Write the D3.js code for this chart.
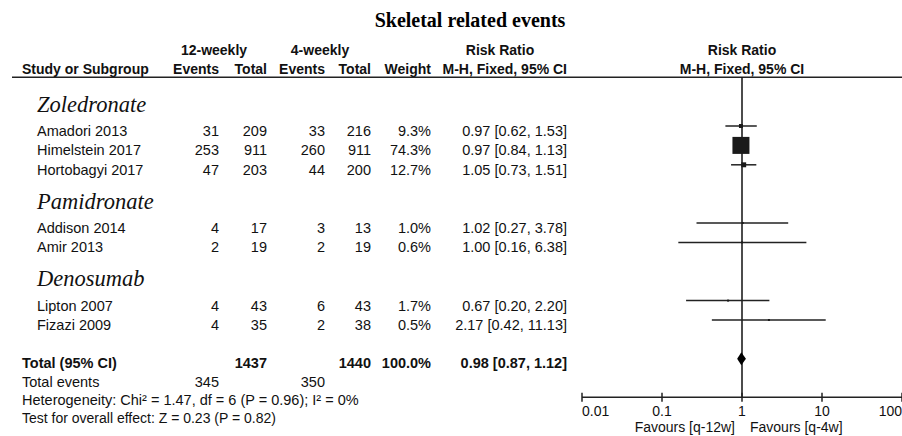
<!DOCTYPE html>
<html>
<head>
<meta charset="utf-8">
<script src="https://cdn.jsdelivr.net/npm/d3@7"></script>
<style>
  body { margin: 0; background: #fff; }
  svg { display: block; }
  .hdr { font-family: 'Liberation Sans', Arial, sans-serif; font-weight: bold; font-size: 14px; fill: #111; }
  .row { font-family: 'Liberation Sans', Arial, sans-serif; font-size: 14.5px; fill: #111; }
  .grp { font-family: 'Liberation Serif', 'Times New Roman', serif; font-style: italic; font-size: 22.5px; fill: #111; }
  .axis text { font-family: 'Liberation Sans', Arial, sans-serif; font-size: 14px; fill: #111; }
</style>
</head>
<body>
<div id="chart"></div>
<script>
// data
var groups = ['Zoledronate', 'Pamidronate', 'Denosumab'];
var studies = ['Amadori 2013', 'Himelstein 2017', 'Hortobagyi 2017', 'Addison 2014', 'Amir 2013', 'Lipton 2007', 'Fizazi 2009'];
var studyGroup = [0, 0, 0, 1, 1, 2, 2];
var events12 = [31, 253, 47, 4, 2, 4, 4];
var total12 = [209, 911, 203, 17, 19, 43, 35];
var events4 = [33, 260, 44, 3, 2, 6, 2];
var total4 = [216, 911, 200, 13, 19, 43, 38];
var weight = [9.3, 74.3, 12.7, 1.0, 0.6, 1.7, 0.5];
var rr = [0.97, 0.97, 1.05, 1.02, 1.00, 0.67, 2.17];
var lower = [0.62, 0.84, 0.73, 0.27, 0.16, 0.20, 0.42];
var upper = [1.53, 1.13, 1.51, 3.78, 6.38, 2.20, 11.13];

var pooled = [0.98, 0.87, 1.12]; // RR, lower, upper
var pooledTotals = [1437, 1440];
var pooledEvents = [345, 350];
var footerLines = [
  'Heterogeneity: Chi\u00b2 = 1.47, df = 6 (P = 0.96); I\u00b2 = 0%',
  'Test for overall effect: Z = 0.23 (P = 0.82)'
];
var axisTicks = [0.01, 0.1, 1, 10, 100];
var favours = ['Favours [q-12w]', 'Favours [q-4w]'];

var width = 902,
  height = 436;

var svg = d3.select('#chart').append('svg')
    .attr('width', width)
    .attr('height', height);

// columns (right edge of each numeric column)
var col = { name: 37, left: 22, ev1: 219, tot1: 267, ev2: 325, tot2: 371, w: 431, ci: 567 };

// layout slots: heading, studies, blank gap per subgroup
var slots = [];
var s = -1;
groups.forEach(function(g, gi) {
  slots.push({ type: 'group', label: g, slot: s++ });
  studies.forEach(function(name, i) {
    if (studyGroup[i] === gi) slots.push({ type: 'study', i: i, slot: s++ });
  });
  s++;
});
var totalSlot = s;

var y = d3.scaleLinear().domain([-1, 12]).range([106.6, 358.8]);
var x = d3.scaleLog().domain([0.01, 100]).range([582, 902]);
var boxSize = d3.scalePow().exponent(0.7).domain([0, d3.max(weight)]).range([0, 17]);
var fmt = d3.format('.2f');
var ciText = function(a, b, c) { return fmt(a) + ' [' + fmt(b) + ', ' + fmt(c) + ']'; };

// title
svg.append('text')
    .attr('x', 470).attr('y', 27)
    .attr('text-anchor', 'middle')
    .style('font-family', "'Liberation Serif', 'Times New Roman', serif")
    .style('font-weight', 'bold')
    .style('font-size', '20px')
    .text('Skeletal related events');

// header
var hdr = svg.append('g').attr('class', 'hdr');
hdr.append('text').attr('x', 214).attr('y', 55).attr('text-anchor', 'middle').text('12-weekly');
hdr.append('text').attr('x', 320).attr('y', 55).attr('text-anchor', 'middle').text('4-weekly');
hdr.append('text').attr('x', 500).attr('y', 55).attr('text-anchor', 'middle').text('Risk Ratio');
hdr.append('text').attr('x', x(1)).attr('y', 55).attr('text-anchor', 'middle').text('Risk Ratio');
hdr.append('text').attr('x', col.left).attr('y', 74).text('Study or Subgroup');
[['ev1', 'Events'], ['tot1', 'Total'], ['ev2', 'Events'], ['tot2', 'Total'], ['w', 'Weight'], ['ci', 'M-H, Fixed, 95% CI']]
  .forEach(function(h) {
    hdr.append('text').attr('x', col[h[0]]).attr('y', 74).attr('text-anchor', 'end').text(h[1]);
  });
hdr.append('text').attr('x', x(1)).attr('y', 74).attr('text-anchor', 'middle').text('M-H, Fixed, 95% CI');

svg.append('line')
    .attr('x1', 12).attr('x2', width)
    .attr('y1', 77.3).attr('y2', 77.3)
    .style('stroke', '#222').style('stroke-width', 1.4);

// subgroup headings
svg.selectAll('.grp')
  .data(slots.filter(function(d) { return d.type === 'group'; }))
  .enter().append('text')
    .attr('class', 'grp')
    .attr('x', col.name)
    .attr('y', function(d) { return y(d.slot) + 5; })
    .text(function(d) { return d.label; });

// study rows
var rows = svg.selectAll('.study')
  .data(slots.filter(function(d) { return d.type === 'study'; }))
  .enter().append('g')
    .attr('class', 'study row')
    .attr('transform', function(d) { return 'translate(0,' + (y(d.slot) + 10) + ')'; });

rows.append('text').attr('x', col.name).text(function(d) { return studies[d.i]; });
rows.append('text').attr('x', col.ev1).attr('text-anchor', 'end').text(function(d) { return events12[d.i]; });
rows.append('text').attr('x', col.tot1).attr('text-anchor', 'end').text(function(d) { return total12[d.i]; });
rows.append('text').attr('x', col.ev2).attr('text-anchor', 'end').text(function(d) { return events4[d.i]; });
rows.append('text').attr('x', col.tot2).attr('text-anchor', 'end').text(function(d) { return total4[d.i]; });
rows.append('text').attr('x', col.w).attr('text-anchor', 'end').text(function(d) { return weight[d.i].toFixed(1) + '%'; });
rows.append('text').attr('x', col.ci).attr('text-anchor', 'end').text(function(d) { return ciText(rr[d.i], lower[d.i], upper[d.i]); });

// total row
var tot = svg.append('g').attr('class', 'row')
    .attr('transform', 'translate(0,' + (y(totalSlot) + 9) + ')')
    .style('font-weight', 'bold');
tot.append('text').attr('x', col.left).text('Total (95% CI)');
tot.append('text').attr('x', col.tot1).attr('text-anchor', 'end').text(pooledTotals[0]);
tot.append('text').attr('x', col.tot2).attr('text-anchor', 'end').text(pooledTotals[1]);
tot.append('text').attr('x', col.w).attr('text-anchor', 'end').text('100.0%');
tot.append('text').attr('x', col.ci).attr('text-anchor', 'end').text(ciText(pooled[0], pooled[1], pooled[2]));

// footer
var fy = d3.scaleLinear().domain([0, 2]).range([386.5, 423]);
var te = svg.append('g').attr('class', 'row').attr('transform', 'translate(0,' + fy(0) + ')');
te.append('text').attr('x', col.left).text('Total events');
te.append('text').attr('x', col.ev1).attr('text-anchor', 'end').text(pooledEvents[0]);
te.append('text').attr('x', col.ev2).attr('text-anchor', 'end').text(pooledEvents[1]);
svg.selectAll('.foot')
  .data(footerLines)
  .enter().append('text')
    .attr('class', 'foot row')
    .style('font-size', function(d, i) { return i === 0 ? '14.5px' : '14px'; })
    .attr('x', col.left)
    .attr('y', function(d, i) { return fy(i + 1); })
    .text(function(d) { return d; });

// forest plot
var axisY = 397.3;
svg.append('line')
    .attr('x1', x(1)).attr('x2', x(1))
    .attr('y1', 77.3).attr('y2', axisY)
    .style('stroke', '#111').style('stroke-width', 1.5);

var marks = svg.selectAll('.mark')
  .data(slots.filter(function(d) { return d.type === 'study'; }))
  .enter().append('g')
    .attr('class', 'mark');

marks.append('line')
    .attr('x1', function(d) { return x(lower[d.i]); })
    .attr('x2', function(d) { return x(upper[d.i]); })
    .attr('y1', function(d) { return y(d.slot); })
    .attr('y2', function(d) { return y(d.slot); })
    .style('stroke', '#222').style('stroke-width', 1.5);

marks.append('rect')
    .attr('x', function(d) { return x(rr[d.i]) - Math.max(2, boxSize(weight[d.i])) / 2; })
    .attr('y', function(d) { return y(d.slot) - Math.max(2, boxSize(weight[d.i])) / 2; })
    .attr('width', function(d) { return Math.max(2, boxSize(weight[d.i])); })
    .attr('height', function(d) { return Math.max(2, boxSize(weight[d.i])); })
    .style('fill', '#1a1a1a');

// pooled diamond
var dy = y(totalSlot);
svg.append('path')
    .attr('d', 'M' + x(pooled[1]) + ',' + dy +
      'L' + x(pooled[0]) + ',' + (dy - 6.5) +
      'L' + x(pooled[2]) + ',' + dy +
      'L' + x(pooled[0]) + ',' + (dy + 6.5) + 'Z')
    .style('fill', '#000');

// axis
var axis = svg.append('g').attr('class', 'axis');
axis.append('line')
    .attr('x1', x(0.01)).attr('x2', x(100))
    .attr('y1', axisY).attr('y2', axisY)
    .style('stroke', '#222').style('stroke-width', 1.5);
axis.selectAll('.tick')
  .data(axisTicks)
  .enter().append('line')
    .attr('x1', function(d) { return x(d); })
    .attr('x2', function(d) { return x(d); })
    .attr('y1', axisY - 4.5).attr('y2', axisY + 4.5)
    .style('stroke', '#222').style('stroke-width', 1.5);
axis.selectAll('.lbl')
  .data(axisTicks)
  .enter().append('text')
    .attr('x', function(d) { return x(d); })
    .attr('y', 416)
    .attr('text-anchor', function(d, i) {
      return i === 0 ? 'start' : (i === axisTicks.length - 1 ? 'end' : 'middle');
    })
    .text(function(d) { return d3.format('~g')(d); });

// favours labels (the reference crops them at the bottom edge; kept just inside)
axis.append('text').attr('x', x(1) - 7).attr('y', 432).attr('text-anchor', 'end').text(favours[0]);
axis.append('text').attr('x', x(1) + 8).attr('y', 432).text(favours[1]);
</script>
</body>
</html>
